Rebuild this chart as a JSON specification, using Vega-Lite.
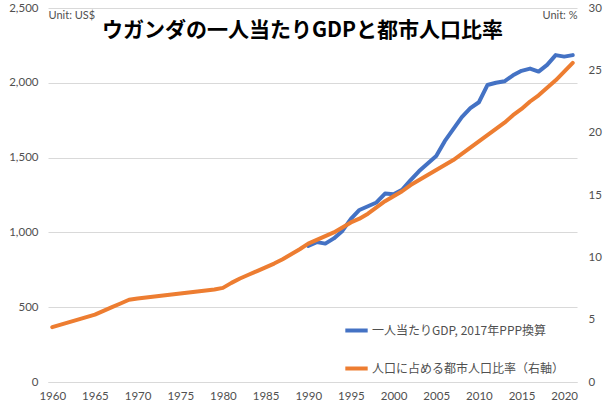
{
  "$schema": "https://vega.github.io/schema/vega-lite/v6.json",
  "autosize": {"type": "none"},
  "width": 529,
  "height": 374,
  "padding": {"left": 48, "top": 8, "right": 32, "bottom": 26},
  "background": "white",
  "title": {
    "text": "ウガンダの一人当たりGDPと都市人口比率",
    "font": "Noto Sans CJK JP",
    "fontSize": 21,
    "fontWeight": "bold",
    "color": "#000000",
    "anchor": "middle",
    "frame": "group",
    "orient": "top",
    "baseline": "top",
    "offset": 0,
    "dx": -10,
    "dy": 39
  },
  "config": {
    "view": {"stroke": null},
    "axis": {"labelFont": "Lato", "labelFontSize": 11.5, "labelColor": "#505050", "titleFont": "Lato", "titleFontSize": 11, "titleColor": "#505050", "titleFontWeight": "normal"},
    "legend": {"labelFont": "Noto Sans CJK JP", "labelFontSize": 12, "labelColor": "#505050", "labelLimit": 400}
  },
  "data": {"values": [
    {"year": 1960, "gdp": null, "urban": 4.4},
    {"year": 1961, "gdp": null, "urban": 4.6},
    {"year": 1962, "gdp": null, "urban": 4.8},
    {"year": 1963, "gdp": null, "urban": 5.0},
    {"year": 1964, "gdp": null, "urban": 5.2},
    {"year": 1965, "gdp": null, "urban": 5.4},
    {"year": 1966, "gdp": null, "urban": 5.7},
    {"year": 1967, "gdp": null, "urban": 6.0},
    {"year": 1968, "gdp": null, "urban": 6.3},
    {"year": 1969, "gdp": null, "urban": 6.6},
    {"year": 1970, "gdp": null, "urban": 6.7},
    {"year": 1971, "gdp": null, "urban": 6.78},
    {"year": 1972, "gdp": null, "urban": 6.86},
    {"year": 1973, "gdp": null, "urban": 6.94},
    {"year": 1974, "gdp": null, "urban": 7.02},
    {"year": 1975, "gdp": null, "urban": 7.1},
    {"year": 1976, "gdp": null, "urban": 7.18},
    {"year": 1977, "gdp": null, "urban": 7.26},
    {"year": 1978, "gdp": null, "urban": 7.34},
    {"year": 1979, "gdp": null, "urban": 7.42},
    {"year": 1980, "gdp": null, "urban": 7.55},
    {"year": 1981, "gdp": null, "urban": 7.95},
    {"year": 1982, "gdp": null, "urban": 8.3},
    {"year": 1983, "gdp": null, "urban": 8.6},
    {"year": 1984, "gdp": null, "urban": 8.9},
    {"year": 1985, "gdp": null, "urban": 9.2},
    {"year": 1986, "gdp": null, "urban": 9.5},
    {"year": 1987, "gdp": null, "urban": 9.85},
    {"year": 1988, "gdp": null, "urban": 10.25},
    {"year": 1989, "gdp": null, "urban": 10.65},
    {"year": 1990, "gdp": 910, "urban": 11.1},
    {"year": 1991, "gdp": 935, "urban": 11.4},
    {"year": 1992, "gdp": 925, "urban": 11.7},
    {"year": 1993, "gdp": 960, "urban": 12.0},
    {"year": 1994, "gdp": 1010, "urban": 12.4},
    {"year": 1995, "gdp": 1090, "urban": 12.8},
    {"year": 1996, "gdp": 1150, "urban": 13.1},
    {"year": 1997, "gdp": 1175, "urban": 13.5},
    {"year": 1998, "gdp": 1200, "urban": 14.0},
    {"year": 1999, "gdp": 1260, "urban": 14.5},
    {"year": 2000, "gdp": 1255, "urban": 14.9},
    {"year": 2001, "gdp": 1285, "urban": 15.3},
    {"year": 2002, "gdp": 1350, "urban": 15.8},
    {"year": 2003, "gdp": 1410, "urban": 16.2},
    {"year": 2004, "gdp": 1460, "urban": 16.6},
    {"year": 2005, "gdp": 1510, "urban": 17.0},
    {"year": 2006, "gdp": 1610, "urban": 17.4},
    {"year": 2007, "gdp": 1690, "urban": 17.8},
    {"year": 2008, "gdp": 1770, "urban": 18.3},
    {"year": 2009, "gdp": 1830, "urban": 18.8},
    {"year": 2010, "gdp": 1870, "urban": 19.3},
    {"year": 2011, "gdp": 1985, "urban": 19.8},
    {"year": 2012, "gdp": 2000, "urban": 20.3},
    {"year": 2013, "gdp": 2010, "urban": 20.8},
    {"year": 2014, "gdp": 2050, "urban": 21.4},
    {"year": 2015, "gdp": 2080, "urban": 21.9},
    {"year": 2016, "gdp": 2095, "urban": 22.5},
    {"year": 2017, "gdp": 2075, "urban": 23.0},
    {"year": 2018, "gdp": 2120, "urban": 23.6},
    {"year": 2019, "gdp": 2185, "urban": 24.2},
    {"year": 2020, "gdp": 2175, "urban": 24.9},
    {"year": 2021, "gdp": 2185, "urban": 25.6}
  ]},
  "encoding": {
    "x": {
      "field": "year", "type": "quantitative",
      "scale": {"domain": [1959.5, 2021.5], "nice": false, "zero": false},
      "axis": {"title": null, "values": [1960,1965,1970,1975,1980,1985,1990,1995,2000,2005,2010,2015,2020], "format": "d", "ticks": false, "domain": true, "domainColor": "#d9d9d9", "grid": false, "labelPadding": 8, "labelFlush": false}
    }
  },
  "layer": [
    {
      "mark": {"type": "line", "strokeWidth": 4, "strokeCap": "round", "strokeJoin": "round"},
      "encoding": {
        "y": {
          "field": "gdp", "type": "quantitative",
          "scale": {"domain": [0, 2500], "nice": false},
          "axis": {"title": "Unit: US$", "titleAngle": 0, "titleAlign": "left", "titleBaseline": "middle", "titleX": 0, "titleY": 7, "values": [0,500,1000,1500,2000,2500], "format": ",.0f", "ticks": false, "domain": false, "grid": true, "gridColor": "#d9d9d9", "labelPadding": 10}
        },
        "color": {
          "datum": "一人当たりGDP, 2017年PPP換算",
          "type": "nominal",
          "scale": {"domain": ["一人当たりGDP, 2017年PPP換算", "人口に占める都市人口比率（右軸）"], "range": ["#4472C4", "#ED7D31"]},
          "legend": {"title": null, "orient": "none", "legendX": 295, "legendY": 309, "symbolType": "stroke", "symbolStrokeWidth": 4, "symbolSize": 500, "rowPadding": 16, "labelOffset": 2}
        }
      }
    },
    {
      "mark": {"type": "line", "strokeWidth": 4, "strokeCap": "round", "strokeJoin": "round"},
      "encoding": {
        "y": {
          "field": "urban", "type": "quantitative",
          "scale": {"domain": [0, 30], "nice": false},
          "axis": {"orient": "right", "title": "Unit: %", "titleAngle": 0, "titleAlign": "right", "titleBaseline": "middle", "titleX": 0, "titleY": 7, "values": [0,5,10,15,20,25,30], "ticks": false, "domain": false, "grid": false, "labelPadding": 11}
        },
        "color": {"datum": "人口に占める都市人口比率（右軸）", "type": "nominal"}
      }
    }
  ],
  "resolve": {"scale": {"y": "independent"}}
}
